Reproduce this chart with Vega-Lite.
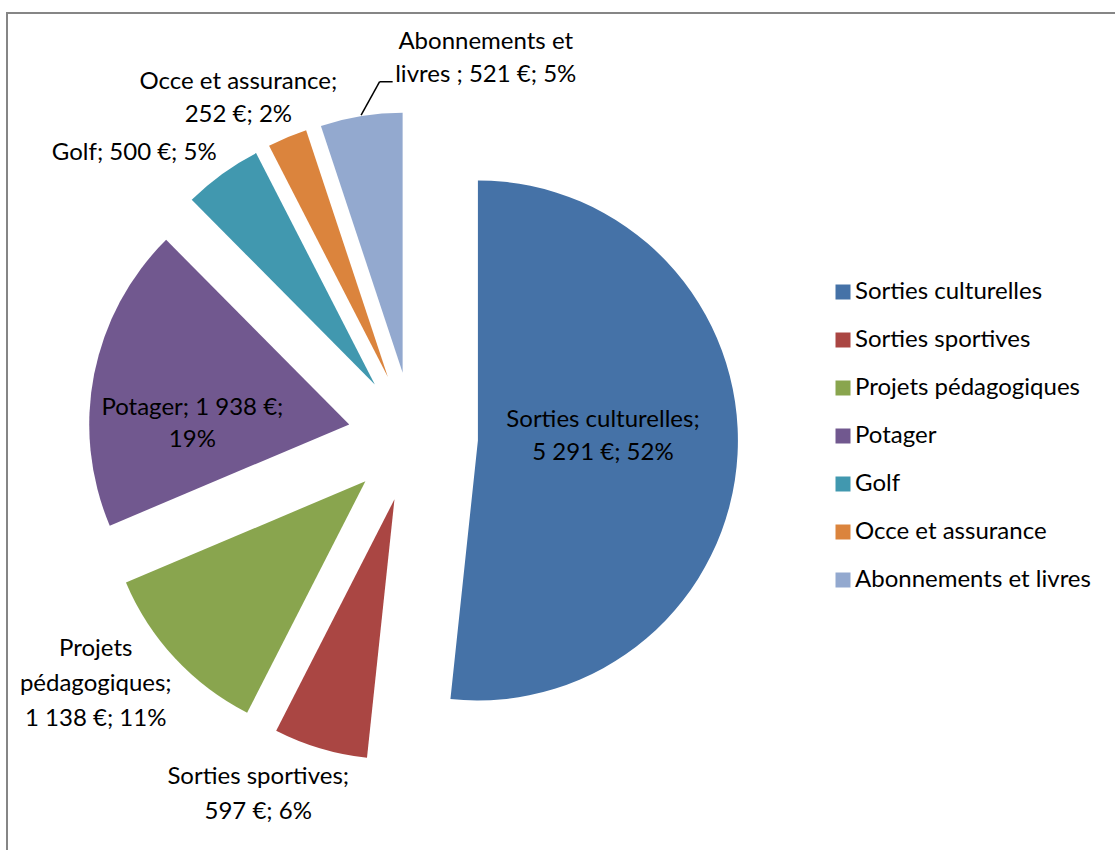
{
  "$schema": "https://vega.github.io/schema/vega-lite/v6.json",
  "width": 1108,
  "height": 860,
  "autosize": "none",
  "padding": {"left": 7, "top": 13, "right": 0, "bottom": 0},
  "background": "white",
  "config": {
    "view": {"stroke": null},
    "font": "Lato"
  },
  "data": {
    "values": [
      {"cat": "Sorties culturelles", "amount": 5291, "label": "Sorties culturelles;\n5 291 €; 52%"},
      {"cat": "Sorties sportives", "amount": 597, "label": "Sorties sportives;\n597 €; 6%"},
      {"cat": "Projets pédagogiques", "amount": 1138, "label": "Projets\npédagogiques;\n1 138 €; 11%"},
      {"cat": "Potager", "amount": 1938, "label": "Potager; 1 938 €;\n19%"},
      {"cat": "Golf", "amount": 500, "label": "Golf; 500 €; 5%"},
      {"cat": "Occe et assurance", "amount": 252, "label": "Occe et assurance;\n252 €; 2%"},
      {"cat": "Abonnements et livres", "amount": 521, "label": "Abonnements et\nlivres ; 521 €; 5%"}
    ]
  },
  "transform": [
    {"joinaggregate": [{"op": "sum", "field": "amount", "as": "total"}]},
    {"stack": "amount", "groupby": [], "as": ["s0", "s1"]}
  ],
  "layer": [
    {
      "transform": [{"filter": {"field": "cat", "equal": "Sorties culturelles"}}],
      "mark": {
        "type": "rect",
        "fill": null,
        "stroke": "#868686",
        "strokeWidth": 2,
        "x": 0,
        "y": 0,
        "x2": {"expr": "width + 40"},
        "y2": {"expr": "height"}
      },
      "encoding": {}
    },
    {
      "mark": {
        "type": "arc",
        "outerRadius": 260,
        "x": 406,
        "y": 424,
        "xOffset": {"expr": "65*sin(PI*(datum.s0+datum.s1)/datum.total)"},
        "yOffset": {"expr": "-65*cos(PI*(datum.s0+datum.s1)/datum.total)"}
      },
      "encoding": {
        "theta": {"field": "s0", "type": "quantitative", "scale": {"domain": [0, 10237], "nice": false, "zero": true}},
        "theta2": {"field": "s1"},
        "color": {
          "field": "cat",
          "type": "nominal",
          "scale": {
            "domain": ["Sorties culturelles", "Sorties sportives", "Projets pédagogiques", "Potager", "Golf", "Occe et assurance", "Abonnements et livres"],
            "range": ["#4572A7", "#AA4643", "#89A54E", "#71588F", "#4198AF", "#DB843D", "#93A9CF"]
          },
          "legend": {
            "title": null,
            "orient": "none",
            "legendX": 824,
            "legendY": 267,
            "padding": 0,
            "symbolType": "square",
            "symbolSize": 225,
            "symbolStrokeWidth": 0,
            "labelFont": "Lato",
            "labelFontSize": 24,
            "labelColor": "#000000",
            "labelOffset": 0,
            "rowPadding": 24,
            "labelLimit": 400
          }
        }
      }
    },
    {
      "transform": [{"filter": {"field": "cat", "equal": "Abonnements et livres"}}],
      "mark": {"type": "rule", "stroke": "#000000", "strokeWidth": 1.5},
      "encoding": {
        "x": {"value": {"expr": "406 + 326*sin(PI*(datum.s0+datum.s1)/datum.total)"}},
        "y": {"value": {"expr": "424 - 326*cos(PI*(datum.s0+datum.s1)/datum.total)"}},
        "x2": {"value": {"expr": "406 + 65*sin(PI*(datum.s0+datum.s1)/datum.total) + 292*sin(PI*(datum.s0+datum.s1)/datum.total + 0.081)"}},
        "y2": {"value": {"expr": "424 - 65*cos(PI*(datum.s0+datum.s1)/datum.total) - 292*cos(PI*(datum.s0+datum.s1)/datum.total + 0.081)"}}
      }
    },
    {
      "transform": [{"filter": {"field": "cat", "equal": "Abonnements et livres"}}],
      "mark": {"type": "rule", "stroke": "#000000", "strokeWidth": 1.5},
      "encoding": {
        "x": {"value": {"expr": "406 + 65*sin(PI*(datum.s0+datum.s1)/datum.total) + 292*sin(PI*(datum.s0+datum.s1)/datum.total + 0.081)"}},
        "y": {"value": {"expr": "424 - 65*cos(PI*(datum.s0+datum.s1)/datum.total) - 292*cos(PI*(datum.s0+datum.s1)/datum.total + 0.081)"}},
        "x2": {"value": {"expr": "406 + 65*sin(PI*(datum.s0+datum.s1)/datum.total) + 292*sin(PI*(datum.s0+datum.s1)/datum.total + 0.081) + 13"}},
        "y2": {"value": {"expr": "424 - 65*cos(PI*(datum.s0+datum.s1)/datum.total) - 292*cos(PI*(datum.s0+datum.s1)/datum.total + 0.081)"}}
      }
    },
    {
      "transform": [{"filter": {"field": "cat", "equal": "Sorties culturelles"}}],
      "mark": {"type": "text", "x": 406, "y": 424, "theta": {"expr": "PI*(datum.s0+datum.s1)/datum.total - 0.058"}, "radius": 190, "dy": -16.5, "fontSize": 24, "lineBreak": "\n", "lineHeight": 33, "align": "center", "baseline": "middle", "color": "#000000"},
      "encoding": {"text": {"field": "label", "type": "nominal"}}
    },
    {
      "transform": [{"filter": {"field": "cat", "equal": "Potager"}}],
      "mark": {"type": "text", "x": 406, "y": 424, "theta": {"expr": "PI*(datum.s0+datum.s1)/datum.total - 0.136"}, "radius": 221, "dy": -16, "fontSize": 24, "lineBreak": "\n", "lineHeight": 32, "align": "center", "baseline": "middle", "color": "#000000"},
      "encoding": {"text": {"field": "label", "type": "nominal"}}
    },
    {
      "transform": [{"filter": {"field": "cat", "equal": "Golf"}}],
      "mark": {"type": "text", "x": 406, "y": 424, "theta": {"expr": "PI*(datum.s0+datum.s1)/datum.total - 0.148"}, "radius": 398, "fontSize": 24, "lineBreak": "\n", "lineHeight": 33, "align": "center", "baseline": "middle", "color": "#000000"},
      "encoding": {"text": {"field": "label", "type": "nominal"}}
    },
    {
      "transform": [{"filter": {"field": "cat", "equal": "Occe et assurance"}}],
      "mark": {"type": "text", "x": 406, "y": 424, "theta": {"expr": "PI*(datum.s0+datum.s1)/datum.total - 0.079"}, "radius": 381, "dy": -16.5, "fontSize": 24, "lineBreak": "\n", "lineHeight": 33, "align": "center", "baseline": "middle", "color": "#000000"},
      "encoding": {"text": {"field": "label", "type": "nominal"}}
    },
    {
      "transform": [{"filter": {"field": "cat", "equal": "Abonnements et livres"}}],
      "mark": {"type": "text", "x": 406, "y": 424, "theta": {"expr": "PI*(datum.s0+datum.s1)/datum.total + 0.35"}, "radius": 385, "dy": -16.5, "fontSize": 24, "lineBreak": "\n", "lineHeight": 33, "align": "center", "baseline": "middle", "color": "#000000"},
      "encoding": {"text": {"field": "label", "type": "nominal"}}
    },
    {
      "transform": [{"filter": {"field": "cat", "equal": "Projets pédagogiques"}}],
      "mark": {"type": "text", "x": 406, "y": 424, "theta": {"expr": "PI*(datum.s0+datum.s1)/datum.total + 0.088"}, "radius": 402, "dy": -35, "fontSize": 24, "lineBreak": "\n", "lineHeight": 35, "align": "center", "baseline": "middle", "color": "#000000"},
      "encoding": {"text": {"field": "label", "type": "nominal"}}
    },
    {
      "transform": [{"filter": {"field": "cat", "equal": "Sorties sportives"}}],
      "mark": {"type": "text", "x": 406, "y": 424, "theta": {"expr": "PI*(datum.s0+datum.s1)/datum.total + 0.119"}, "radius": 390, "dy": -17.5, "fontSize": 24, "lineBreak": "\n", "lineHeight": 35, "align": "center", "baseline": "middle", "color": "#000000"},
      "encoding": {"text": {"field": "label", "type": "nominal"}}
    }
  ]
}
